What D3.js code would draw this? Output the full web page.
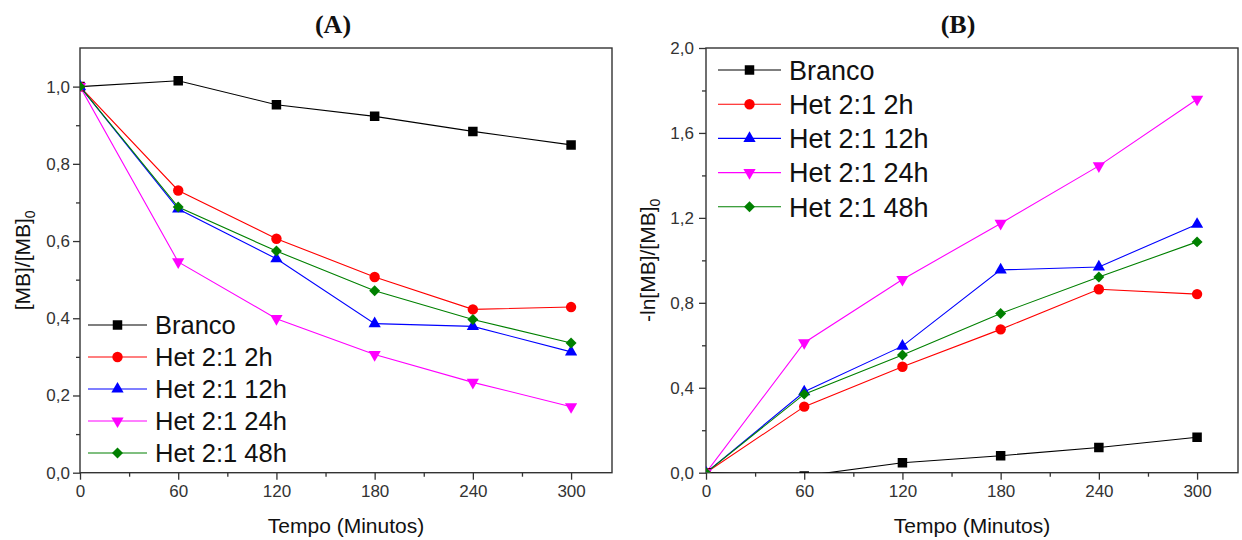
<!DOCTYPE html>
<html>
<head>
<meta charset="utf-8">
<script src="https://cdn.jsdelivr.net/npm/d3@7"></script>
<style>
  body { margin: 0; background: #fff; }
  text { font-family: Arial, "Liberation Sans", sans-serif; }
</style>
</head>
<body>
<div id="chart"></div>
<script>
// tempo (minutos)
var tempo = [0, 60, 120, 180, 240, 300];
var seriesNames = ["Branco", "Het 2:1 2h", "Het 2:1 12h", "Het 2:1 24h", "Het 2:1 48h"];
var seriesColors = ["#000000", "#ff0000", "#0000ff", "#ff00ff", "#008000"];

// (A) [MB]/[MB]0
var brancoA = [1.0, 1.015, 0.953, 0.923, 0.884, 0.849];
var het2hA  = [1.0, 0.731, 0.606, 0.507, 0.423, 0.429];
var het12hA = [1.0, 0.683, 0.554, 0.386, 0.379, 0.313];
var het24hA = [1.0, 0.546, 0.399, 0.306, 0.234, 0.171];
var het48hA = [1.0, 0.688, 0.574, 0.471, 0.397, 0.336];

// (B) -ln[MB]/[MB]0
var brancoB = [0.0, -0.015, 0.047, 0.080, 0.119, 0.167];
var het2hB  = [0.0, 0.311, 0.499, 0.675, 0.864, 0.841];
var het12hB = [0.0, 0.381, 0.596, 0.955, 0.969, 1.170];
var het24hB = [0.0, 0.612, 0.910, 1.174, 1.445, 1.759];
var het48hB = [0.0, 0.370, 0.554, 0.750, 0.922, 1.087];

var xMajor = [0, 60, 120, 180, 240, 300];
var xMinor = [30, 90, 150, 210, 270];
var yMajorA = [0, 0.2, 0.4, 0.6, 0.8, 1.0];
var yMinorA = [0.1, 0.3, 0.5, 0.7, 0.9];
var yMajorB = [0, 0.4, 0.8, 1.2, 1.6, 2.0];
var yMinorB = [0.2, 0.6, 1.0, 1.4, 1.8];

var W = 1242, H = 540;

var svg = d3.select("#chart")
  .append("svg")
    .attr("width", W)
    .attr("height", H);

var fmt = function(d) { return d3.format(".1f")(d).replace(".", ","); };

var symbolFor = [
  {type: d3.symbolSquare, size: 90, rot: 0},
  {type: d3.symbolCircle, size: 85, rot: 0},
  {type: d3.symbolTriangle, size: 65, rot: 0},
  {type: d3.symbolTriangle, size: 65, rot: 180},
  {type: d3.symbolSquare, size: 60, rot: 45}
];

function drawPanel(cfg) {
  var x = d3.scaleLinear().domain([0, 325]).range([cfg.left, cfg.right]);
  var y = d3.scaleLinear().domain(cfg.yDomain).range([cfg.bottom, cfg.top]);

  var g = svg.append("g");

  // clip
  var clipId = "clip" + cfg.id;
  svg.append("defs").append("clipPath").attr("id", clipId)
    .append("rect")
      .attr("x", cfg.left).attr("y", cfg.top)
      .attr("width", cfg.right - cfg.left).attr("height", cfg.bottom - cfg.top);

  // minor ticks
  g.append("g")
      .attr("transform", "translate(0," + cfg.bottom + ")")
      .call(d3.axisBottom(x).tickValues(xMinor).tickSize(4).tickFormat(""))
      .call(function(a) { a.select(".domain").remove(); });
  g.append("g")
      .attr("transform", "translate(" + cfg.left + ",0)")
      .call(d3.axisLeft(y).tickValues(cfg.yMinor).tickSize(4).tickFormat(""))
      .call(function(a) { a.select(".domain").remove(); });

  // major ticks
  var xAx = g.append("g")
      .attr("transform", "translate(0," + cfg.bottom + ")")
      .call(d3.axisBottom(x).tickValues(xMajor).tickSize(7).tickPadding(5).tickFormat(d3.format("d")));
  xAx.select(".domain").remove();
  xAx.selectAll("text").attr("font-size", 17).attr("fill", "#333");

  var yAx = g.append("g")
      .attr("transform", "translate(" + cfg.left + ",0)")
      .call(d3.axisLeft(y).tickValues(cfg.yMajor).tickSize(7).tickPadding(cfg.yPad).tickFormat(fmt));
  yAx.select(".domain").remove();
  yAx.selectAll("text").attr("font-size", 17).attr("fill", "#333");

  g.selectAll(".tick line").attr("stroke", "#333").attr("stroke-width", 1.3);

  // frame
  g.append("rect")
      .attr("x", cfg.left).attr("y", cfg.top)
      .attr("width", cfg.right - cfg.left).attr("height", cfg.bottom - cfg.top)
      .attr("fill", "none")
      .attr("stroke", "#333")
      .attr("stroke-width", 1.4);

  // series
  var line = d3.line()
    .x(function(d, i) { return x(tempo[i]); })
    .y(function(d) { return y(d); });

  var plot = g.append("g").attr("clip-path", "url(#" + clipId + ")");

  cfg.series.forEach(function(vals, k) {
    plot.append("path")
        .datum(vals)
        .attr("d", line)
        .attr("fill", "none")
        .attr("stroke", seriesColors[k])
        .attr("stroke-width", 1.1);
  });
  cfg.series.forEach(function(vals, k) {
    var s = symbolFor[k];
    plot.selectAll(".m" + k)
      .data(vals)
      .enter()
      .append("path")
        .attr("d", d3.symbol().type(s.type).size(s.size))
        .attr("transform", function(d, i) {
          return "translate(" + x(tempo[i]) + "," + y(d) + ") rotate(" + s.rot + ")";
        })
        .attr("fill", seriesColors[k]);
  });

  // legend
  var leg = g.append("g");
  seriesNames.forEach(function(name, k) {
    var ly = cfg.legY + k * cfg.legStep;
    var s = symbolFor[k];
    leg.append("line")
        .attr("x1", cfg.legX).attr("x2", cfg.legX + cfg.legLen)
        .attr("y1", ly).attr("y2", ly)
        .attr("stroke", seriesColors[k])
        .attr("stroke-width", 1.1);
    leg.append("path")
        .attr("d", d3.symbol().type(s.type).size(s.size))
        .attr("transform", "translate(" + (cfg.legX + cfg.legLen / 2) + "," + ly + ") rotate(" + s.rot + ")")
        .attr("fill", seriesColors[k]);
    leg.append("text")
        .attr("x", cfg.legX + cfg.legLen + 8)
        .attr("y", ly)
        .attr("dy", "0.36em")
        .attr("font-size", cfg.legFont)
        .attr("fill", "#111")
        .text(name);
  });

  // titles
  g.append("text")
      .attr("x", cfg.titleX).attr("y", 33)
      .attr("text-anchor", "middle")
      .style("font-family", "'Liberation Serif', 'Times New Roman', serif")
      .style("font-weight", "bold")
      .attr("font-size", 26)
      .attr("fill", "#111")
      .text(cfg.title);

  g.append("text")
      .attr("x", (cfg.left + cfg.right) / 2).attr("y", 533)
      .attr("text-anchor", "middle")
      .attr("font-size", 21)
      .attr("fill", "#111")
      .text("Tempo (Minutos)");

  var yl = g.append("text")
      .attr("transform", "translate(" + cfg.yLabX + "," + ((cfg.top + cfg.bottom) / 2) + ") rotate(-90)")
      .attr("text-anchor", "middle")
      .attr("font-size", 21)
      .attr("fill", "#111");
  yl.append("tspan").text(cfg.yLabel);
  yl.append("tspan").attr("font-size", 14).attr("dy", "0.35em").text("0");
}

drawPanel({
  id: "A", left: 80, right: 612, top: 48, bottom: 472.7,
  yDomain: [0, 1.1], yMajor: yMajorA, yMinor: yMinorA, yPad: 3,
  series: [brancoA, het2hA, het12hA, het24hA, het48hA],
  legX: 88, legLen: 59, legY: 325, legStep: 32, legFont: 25.5,
  title: "(A)", titleX: 333, yLabel: "[MB]/[MB]", yLabX: 30
});

drawPanel({
  id: "B", left: 706, right: 1238, top: 48, bottom: 472.7,
  yDomain: [0, 2.0], yMajor: yMajorB, yMinor: yMinorB, yPad: 5,
  series: [brancoB, het2hB, het12hB, het24hB, het48hB],
  legX: 718, legLen: 63, legY: 70, legStep: 34.2, legFont: 27,
  title: "(B)", titleX: 958, yLabel: "-ln[MB]/[MB]", yLabX: 655
});
</script>
</body>
</html>
